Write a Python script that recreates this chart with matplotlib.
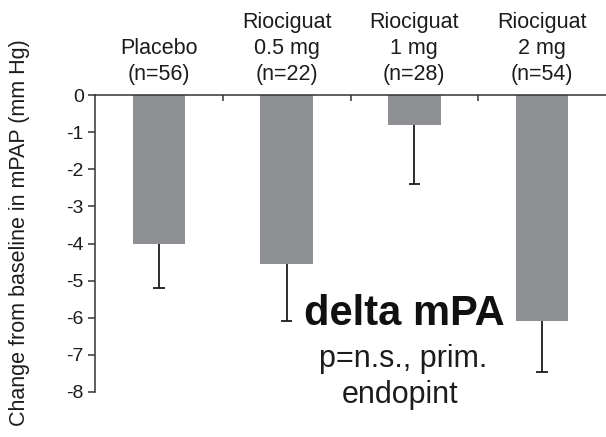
import matplotlib
matplotlib.use("Agg")
import matplotlib.pyplot as plt
import matplotlib.transforms as mtransforms

plt.rcParams['font.family'] = ['Liberation Sans', 'DejaVu Sans']

# Groups and mean change from baseline (mm Hg) with lower error
categories = ["Placebo\n(n=56)", "Riociguat\n0.5 mg\n(n=22)",
              "Riociguat\n1 mg\n(n=28)", "Riociguat\n2 mg\n(n=54)"]
mean_change = [-4.0, -4.55, -0.8, -6.1]
error_low = [1.2, 1.55, 1.6, 1.35]
y_ticks = [0, -1, -2, -3, -4, -5, -6, -7, -8]

W, H = 606, 437
fig = plt.figure(figsize=(W / 100, H / 100), dpi=100)
ax = fig.add_axes([95 / W, 1 - 392 / H, 511 / W, 297 / H])

x = list(range(len(categories)))
bar_color = "#8e8f93"
ink = "#1c1c1c"

ax.bar(x, mean_change, width=0.41, color=bar_color, zorder=2)

# one-sided error bars: stem down from the bar end, cap at the bottom only
err_end = [m - e for m, e in zip(mean_change, error_low)]
cap_half = 0.045
ax.vlines(x, err_end, mean_change, colors=ink, linewidth=1.3, zorder=3)
ax.hlines(err_end, [xi - cap_half for xi in x], [xi + cap_half for xi in x],
          colors=ink, linewidth=1.3, zorder=3)

ax.set_xlim(-0.5, len(x) - 0.5)
ax.set_ylim(-8, 0)

for side in ("right", "bottom"):
    ax.spines[side].set_visible(False)
for side in ("left", "top"):
    ax.spines[side].set_color("#333333")
    ax.spines[side].set_linewidth(1.1)

ax.set_yticks(y_ticks)
ax.set_yticklabels([str(v) for v in y_ticks], fontsize=14, color=ink)
ax.tick_params(axis="y", direction="out", length=5, width=1.1,
               color="#333333", pad=3)

# group separators as small ticks hanging from the zero line
ax.set_xticks([])
ax.set_xticks([i + 0.5 for i in range(len(x) - 1)], minor=True)
ax.tick_params(axis="x", which="minor", top=True, bottom=False,
               direction="in", length=4, width=1.1, color="#333333",
               labeltop=False, labelbottom=False)

trans = mtransforms.blended_transform_factory(ax.transData, ax.transAxes)
for xi, lab in zip(x, categories):
    ax.text(xi, 1.035, lab, transform=trans, ha="center", va="bottom",
            fontsize=15.5, color=ink, linespacing=1.3, multialignment="center")

fig.text(20 / W, 1 - 233 / H, "Change from baseline in mPAP (mm Hg)",
         rotation=90, ha="center", va="center", fontsize=15.5, color=ink)

fig.text(404 / W, 1 - 325 / H, "delta mPA", ha="center", va="baseline",
         fontsize=30, fontweight="bold", color="#111111")
fig.text(403 / W, 1 - 367 / H, "p=n.s., prim.", ha="center", va="baseline",
         fontsize=22, color=ink)
fig.text(400 / W, 1 - 403 / H, "endopint", ha="center", va="baseline",
         fontsize=22, color=ink)

fig.savefig("out.png", dpi=100)
